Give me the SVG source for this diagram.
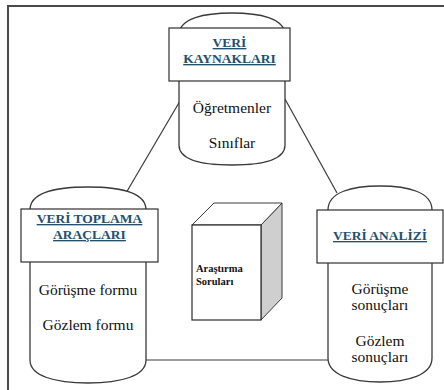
<svg xmlns="http://www.w3.org/2000/svg" width="444" height="390" viewBox="0 0 444 390">
<style>
.frame{fill:none;stroke:#4a4a4a;stroke-width:2}
.cyl{fill:#fff;stroke:#3a3a3a;stroke-width:1.3}
.box{fill:#fff;stroke:#2f2f2f;stroke-width:1.2}
.link{fill:none;stroke:#3a3a3a;stroke-width:1.2}
.hdr{font-family:"Liberation Serif","DejaVu Serif",serif;font-weight:bold;font-size:13.5px;fill:#24506f;text-decoration:underline;text-anchor:middle}
.body{font-family:"Liberation Serif","DejaVu Serif",serif;font-size:15.5px;fill:#111;text-anchor:middle}
.cube{font-family:"Liberation Serif","DejaVu Serif",serif;font-weight:bold;font-size:10.5px;fill:#111}
</style>
<rect x="0" y="0" width="444" height="390" fill="#fff"/>
<path class="frame" d="M8,390 V6 H444"/>
<g id="connectors">
<line class="link" x1="180" y1="101" x2="126" y2="193"/>
<line class="link" x1="285" y1="99" x2="337" y2="193"/>
<line class="link" x1="146" y1="360" x2="328" y2="360"/>
</g>
<g id="veri-kaynaklari">
<path class="cyl" d="M179,35 C179,18 205,13 232,13 C259,13 285,18 285,35 V145 C285,160 262,165 232,165 C202,165 179,160 179,145 Z"/>
<rect class="box" x="169" y="28" width="121" height="53"/>
<text class="hdr" x="229.5" y="47">VERİ</text>
<text class="hdr" x="229.5" y="63">KAYNAKLARI</text>
<text class="body" x="232" y="113">Öğretmenler</text>
<text class="body" x="232" y="148">Sınıflar</text>
</g>
<g id="veri-toplama">
<path class="cyl" d="M30,210 C30,193 55,187 88,187 C121,187 146,193 146,210 V360 C146,376 121,383 88,383 C55,383 30,376 30,360 Z"/>
<rect class="box" x="21" y="209" width="137" height="53"/>
<text class="hdr" x="89.5" y="223">VERİ TOPLAMA</text>
<text class="hdr" x="89.5" y="239">ARAÇLARI</text>
<text class="body" x="88" y="295">Görüşme formu</text>
<text class="body" x="88" y="330">Gözlem formu</text>
</g>
<g id="veri-analizi">
<path class="cyl" d="M328,210 C328,192 352,186 380,186 C408,186 432,192 432,210 V358 C432,375 408,382 380,382 C352,382 328,375 328,358 Z"/>
<rect class="box" x="317" y="210" width="126" height="53"/>
<text class="hdr" x="380" y="240">VERİ ANALİZİ</text>
<text class="body" x="380" y="294">Görüşme</text>
<text class="body" x="380" y="310">sonuçları</text>
<text class="body" x="380" y="346">Gözlem</text>
<text class="body" x="380" y="362">sonuçları</text>
</g>
<g id="arastirma-sorulari">
<polygon points="261,225 282,203 282,298 261,320" fill="#cfcfcf" stroke="#3a3a3a" stroke-width="1"/>
<polygon points="192,225 214,203 282,203 261,225" fill="#fff" stroke="#3a3a3a" stroke-width="1"/>
<rect x="192" y="225" width="69" height="95" fill="#fff" stroke="#2a2a2a" stroke-width="1.2"/>
<text class="cube" x="196" y="272">Araştırma</text>
<text class="cube" x="196" y="285">Soruları</text>
</g>
</svg>
